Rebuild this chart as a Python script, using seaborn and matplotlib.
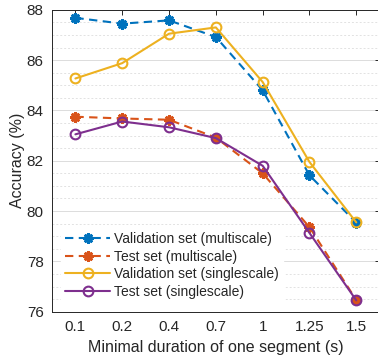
import numpy as np
import pandas as pd
import matplotlib
matplotlib.use("Agg")
import matplotlib.pyplot as plt
import seaborn as sns
from matplotlib.ticker import MultipleLocator

categories = ["0.1", "0.2", "0.4", "0.7", "1", "1.25", "1.5"]
val_multi = [87.68, 87.45, 87.58, 86.92, 84.80, 81.42, 79.54]
test_multi = [83.75, 83.68, 83.63, 82.92, 81.50, 79.36, 76.46]
val_single = [85.27, 85.88, 87.05, 87.30, 85.13, 81.95, 79.55]
test_single = [83.05, 83.56, 83.33, 82.90, 81.80, 79.13, 76.45]
series_names = ["Validation set (multiscale)", "Test set (multiscale)",
                "Validation set (singlescale)", "Test set (singlescale)"]
yticks = [76, 78, 80, 82, 84, 86, 88]

sns.set_theme(style="white")
plt.rcParams['font.family'] = ['Liberation Sans', 'DejaVu Sans']

colors = ["#0072BD", "#D95319", "#EDB120", "#7E2F8E"]
dark = "#262626"

fig = plt.figure(figsize=(3.78, 3.63), dpi=100)
W, H = 378, 363
left, right, top, bottom = 52, 379.7, 9.8, 311.7
ax = fig.add_axes([left / W, 1 - bottom / H, (right - left) / W, (bottom - top) / H])

x = np.arange(len(categories))
all_vals = [val_multi, test_multi, val_single, test_single]
styles = [
    dict(linestyle=(0, (4, 2.6)), marker=(8, 2, 0), markersize=7.5, markeredgewidth=1.9, markerfacecolor="none"),
    dict(linestyle=(0, (4, 2.6)), marker=(8, 2, 0), markersize=7.5, markeredgewidth=1.9, markerfacecolor="none"),
    dict(linestyle="-", marker="o", markersize=7, markeredgewidth=1.5, markerfacecolor="none"),
    dict(linestyle="-", marker="o", markersize=7, markeredgewidth=1.5, markerfacecolor="none"),
]
for vals, name, c in zip(all_vals, series_names, colors):
    df = pd.DataFrame({"x": x, "y": vals})
    sns.lineplot(data=df, x="x", y="y", ax=ax, color=c, label=name, linewidth=1.5)

for line, c, st in zip(ax.lines, colors, styles):
    line.set_linestyle(st["linestyle"])
    line.set_marker(st["marker"])
    line.set_markersize(st["markersize"])
    line.set_markeredgewidth(st["markeredgewidth"])
    line.set_markeredgecolor(c)
    line.set_markerfacecolor(st["markerfacecolor"])

ax.set_xlim(-0.5, len(categories) - 0.5)
ax.set_ylim(76, 88)
ax.set_xticks(x)
ax.set_xticklabels(categories)
ax.set_yticks(yticks)
ax.yaxis.set_minor_locator(MultipleLocator(0.5))
ax.grid(True, which="major", axis="y", color="#dcdcdc", linewidth=0.7, linestyle="-")
ax.grid(True, which="minor", axis="y", color="#e2e2e2", linewidth=0.7, linestyle=(0, (2, 2)))
ax.set_axisbelow(True)

ax.tick_params(axis="both", which="major", direction="in", length=3.5, width=0.7,
               colors=dark, labelsize=11, top=True, right=True, pad=6)
ax.tick_params(axis="y", which="minor", length=0, left=False, right=False)
for s in ax.spines.values():
    s.set_color("#262626")
    s.set_linewidth(0.7)

ax.set_xlabel("Minimal duration of one segment (s)", fontsize=11.5, color=dark, labelpad=4)
ax.set_ylabel("Accuracy (%)", fontsize=11.5, color=dark, labelpad=1)

leg = ax.legend(loc="lower left", bbox_to_anchor=(0.02, 0.02), frameon=True,
                fontsize=10, handlelength=3.2, labelspacing=0.25, borderpad=0.3,
                handletextpad=0.3, borderaxespad=0.2)
leg.get_frame().set_facecolor("white")
leg.get_frame().set_edgecolor("white")
leg.get_frame().set_alpha(1)
for t in leg.get_texts():
    t.set_color(dark)

fig.savefig("out.png", dpi=100)
